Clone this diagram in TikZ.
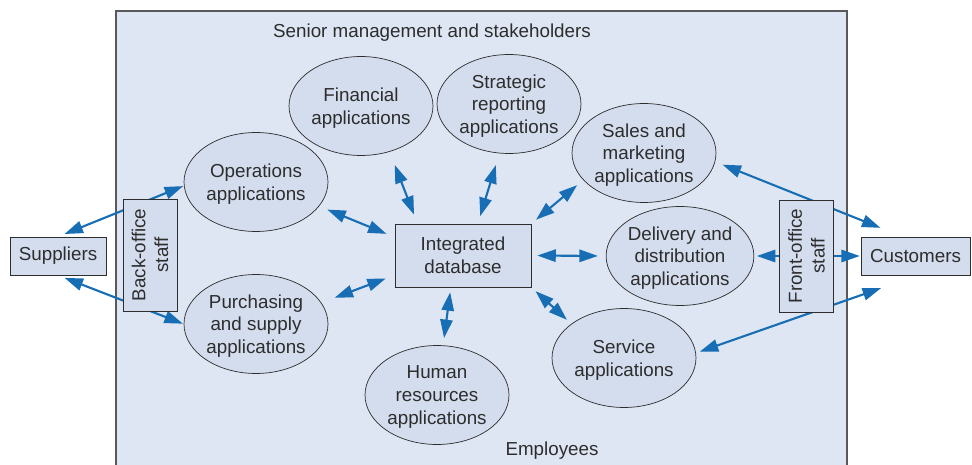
\documentclass[tikz,border=0pt]{standalone}
\usepackage{fontspec}
\setmainfont{Liberation Sans}
\usetikzlibrary{shapes.geometric, arrows.meta}
\definecolor{panelBg}{RGB}{222,230,243}
\definecolor{shapeFill}{RGB}{212,221,238}
\definecolor{linkBlue}{RGB}{24,110,180}
\definecolor{inkGrey}{RGB}{45,45,45}
\pgfdeclarelayer{panel}
\pgfdeclarelayer{links}
\pgfsetlayers{panel,links,main}

\begin{document}
\begin{tikzpicture}[
    x=0.02cm, y=-0.02cm,
    every node/.style={font=\fontsize{10.7}{12.9}\selectfont, text=inkGrey},
    appbox/.style={ellipse, draw=inkGrey, fill=shapeFill, minimum width=2.88cm, minimum height=1.98cm, inner sep=0pt, align=center, text depth=0pt},
    databox/.style={rectangle, draw=inkGrey, fill=shapeFill, align=center, inner sep=0pt},
    staffbox/.style={databox, rotate=90, minimum width=2.24cm, minimum height=1.08cm},
    link/.style={{Triangle[length=10.5pt,width=7pt]}-{Triangle[length=10.5pt,width=7pt]}, line width=1.2pt, linkBlue, shorten <=5pt, shorten >=5pt}
]
\useasboundingbox (0,0) rectangle (972,465);
\begin{pgfonlayer}{panel}
\draw[line width=0.9pt, draw=black!65, fill=panelBg] (116,11) rectangle (847,480);
\end{pgfonlayer}

\node (senior) at (432,33) {Senior management and stakeholders};
\node (employees) at (552,451) {Employees};

\node[databox, minimum width=1.92cm, minimum height=0.76cm] (sup) at (58,256) {Suppliers};
\node[databox, minimum width=2.18cm, minimum height=0.76cm] (cust) at (915.5,256) {Customers};
\node[databox, minimum width=2.72cm, minimum height=1.26cm] (db) at (463,255.5) {Integrated\\database};
\node[staffbox] (back) at (150,255) {Back-office\\staff};
\node[staffbox] (front) at (806.5,256) {Front-office\\staff};

\node[appbox] (fin) at (361,106) {Financial\\applications};
\node[appbox] (strat) at (509,104) {Strategic\\reporting\\applications};
\node[appbox] (ops) at (256,182) {Operations\\applications};
\node[appbox] (sales) at (644,153) {Sales and\\marketing\\applications};
\node[appbox] (del) at (680,256) {Delivery and\\distribution\\applications};
\node[appbox] (purch) at (256,324) {Purchasing\\and supply\\applications};
\node[appbox] (serv) at (624,358) {Service\\applications};
\node[appbox] (hr) at (437,395) {Human\\resources\\applications};

\begin{pgfonlayer}{links}
\draw[link] (ops.-21.5) -- (db.165.4);
\draw[link, shorten <=8pt, shorten >=5.5pt] (fin.-58) -- (db.145);
\draw[link, shorten <=7pt, shorten >=4.5pt] (strat.-101) -- (db.65);
\draw[link, shorten <=4.5pt, shorten >=3.5pt] (sales.-156) -- (db.north east);
\draw[link, shorten <=3.4pt, shorten >=4.5pt] (db.east) -- (del.west);
\draw[link, shorten <=3.2pt, shorten >=3.4pt] (db.south east) -- (serv.147);
\draw[link, shorten <=2.8pt, shorten >=4.2pt] (db.-111) -- (hr.83);
\draw[link, shorten <=5.4pt, shorten >=8pt] (db.-164) -- (purch.18);
\draw[link, shorten <=0.5pt, shorten >=4pt] (ops.-177.6) -- (sup.north);
\draw[link, shorten <=0.5pt, shorten >=4pt] (purch.west) -- (sup.south);
\draw[link, shorten <=4.5pt, shorten >=13.5pt] (sales.-7.3) -- (cust.124);
\draw[link, shorten <=1.5pt, shorten >=0.5pt] (del.east) -- (cust.west);
\draw[link, shorten <=2.3pt, shorten >=22pt] (serv.4.6) -- (cust.-84);
\end{pgfonlayer}
\end{tikzpicture}
\end{document}
